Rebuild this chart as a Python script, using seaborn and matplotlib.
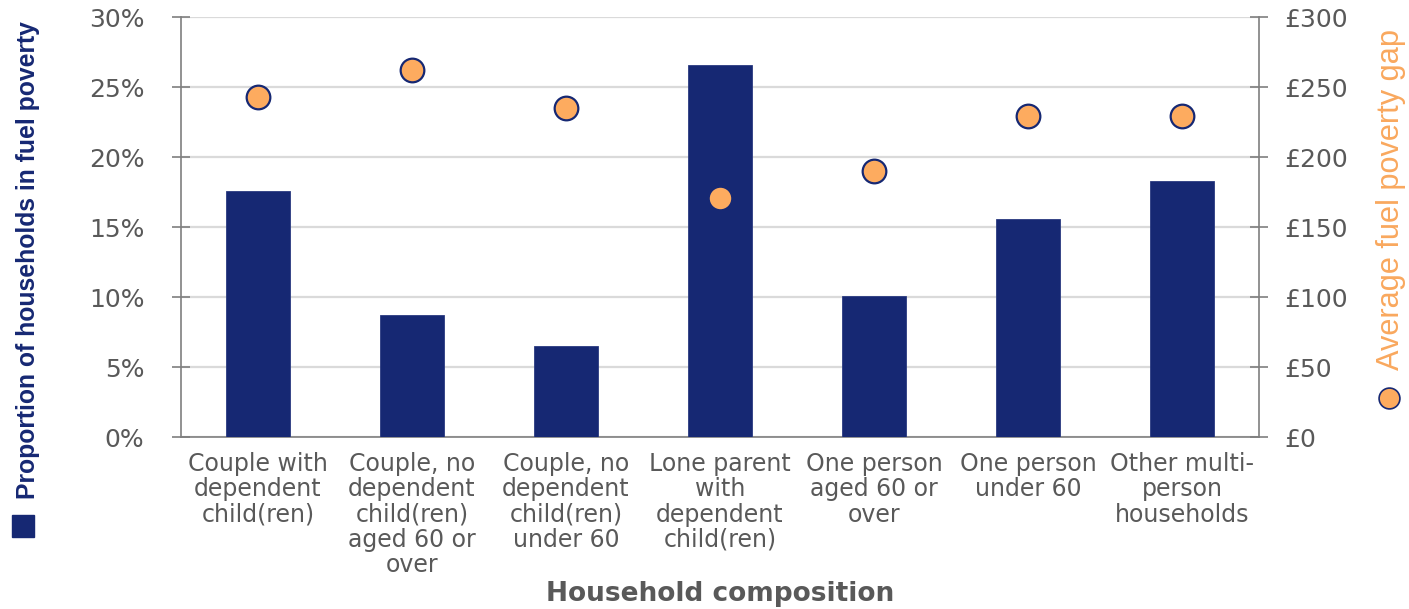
import numpy as np
import matplotlib
matplotlib.use("Agg")
import matplotlib.pyplot as plt
from matplotlib.lines import Line2D
from matplotlib.ticker import FuncFormatter, MultipleLocator
from matplotlib import font_manager
import seaborn as sns

# Data
categories = [
    "Couple with\ndependent\nchild(ren)",
    "Couple, no\ndependent\nchild(ren)\naged 60 or\nover",
    "Couple, no\ndependent\nchild(ren)\nunder 60",
    "Lone parent\nwith\ndependent\nchild(ren)",
    "One person\naged 60 or\nover",
    "One person\nunder 60",
    "Other multi-\nperson\nhouseholds",
]
proportion = [17.6, 8.7, 6.5, 26.6, 10.1, 15.6, 18.3]   # % of households
gap = [243, 262, 235, 171, 190, 229, 229]               # average gap, GBP

navy = "#162873"
orange = "#FDAB5F"
label_orange = "#F9A85E"
grey_text = "#595959"
axis_grey = "#7f7f7f"

sns.set_style("white")
plt.rcParams["font.family"] = ["DejaVu Sans"]

names = {f.name for f in font_manager.fontManager.ttflist}
narrow = "Liberation Sans Narrow" if "Liberation Sans Narrow" in names else "Liberation Sans"

fig = plt.figure(figsize=(14.09, 6.09), dpi=100)
ax = fig.add_axes([0.1285, 0.2824, 0.765, 0.6896])

pos = np.arange(len(categories))
sns.barplot(x=pos, y=proportion, color=navy, width=0.41, saturation=1,
            edgecolor="#2a3a80", linewidth=0.6, ax=ax, zorder=3)

ax.set_xlim(-0.5, len(categories) - 0.5)
ax.set_ylim(0, 30)
ax.yaxis.set_major_locator(MultipleLocator(5))
ax.yaxis.set_major_formatter(FuncFormatter(lambda v, p: f"{v:.0f}%"))
ax.grid(axis="y", color="#dadada", lw=1.6, zorder=0)
ax.set_axisbelow(True)

ax.set_xticks(pos)
ax.set_xticklabels(categories, fontsize=17, color=grey_text, linespacing=1.06)
ax.set_xticks(np.arange(-0.5, len(categories)), minor=True)
ax.tick_params(axis="x", which="major", length=0, pad=11)
ax.tick_params(axis="x", which="minor", length=6, width=1.2, color=axis_grey)
ax.tick_params(axis="y", direction="inout", length=13, width=1.2, color=axis_grey,
               labelsize=18, labelcolor=grey_text, pad=20, left=True)
ax.set_xlabel("Household composition", fontsize=19, fontweight="bold",
              color=grey_text, va="center")
ax.xaxis.set_label_coords(0.5, -0.374)
ax.set_ylabel("")

for side in ["left", "bottom"]:
    ax.spines[side].set_color(axis_grey)
    ax.spines[side].set_linewidth(1.2)
ax.spines["top"].set_visible(False)
ax.spines["right"].set_visible(False)

ax2 = ax.twinx()
sns.scatterplot(x=pos, y=gap, ax=ax2, s=290, color=orange, edgecolor=navy,
                linewidth=1.6, zorder=4, legend=False)
ax2.set_ylim(0, 300)
ax2.yaxis.set_major_locator(MultipleLocator(50))
ax2.yaxis.set_major_formatter(FuncFormatter(lambda v, p: f"£{v:.0f}"))
ax2.tick_params(axis="y", direction="inout", length=13, width=1.2, color=axis_grey,
                labelsize=18, labelcolor=grey_text, pad=12, right=True)
ax2.spines["right"].set_color(axis_grey)
ax2.spines["right"].set_linewidth(1.2)
for side in ["top", "left", "bottom"]:
    ax2.spines[side].set_visible(False)
ax2.grid(False)

# Axis titles with their legend keys (sized to the reference's length)
left_lab = fig.text(0.02, 0.573, "Proportion of households in fuel poverty",
                    rotation=90, ha="center", va="center", fontsize=20,
                    fontweight="bold", color=navy, family=[narrow, "DejaVu Sans"])
right_lab = fig.text(0.9875, 0.672, "Average fuel poverty gap", rotation=90,
                     ha="center", va="center", fontsize=20, color=label_orange,
                     family=[narrow, "DejaVu Sans"])
fig.canvas.draw()
for t, target in [(left_lab, 478), (right_lab, 340)]:
    h = t.get_window_extent().height
    t.set_fontsize(t.get_fontsize() * target / h)

fig.add_artist(Line2D([0.0165], [1 - 526 / 609], marker="s", markersize=16,
                      color=navy, transform=fig.transFigure))
fig.add_artist(Line2D([0.9858], [1 - 398 / 609], marker="o", markersize=15,
                      markerfacecolor=orange, markeredgecolor=navy,
                      markeredgewidth=1.2, transform=fig.transFigure))

fig.savefig("out.png", dpi=100)
